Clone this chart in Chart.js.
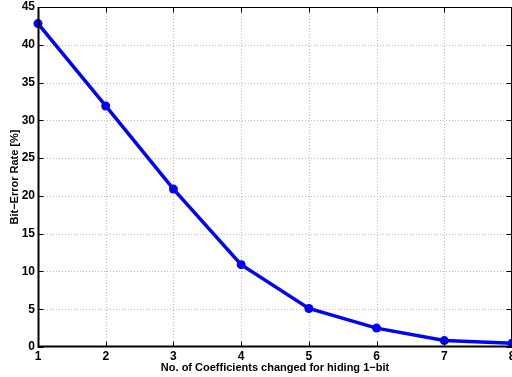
<!DOCTYPE html>
<html><head><meta charset="utf-8">
<script src="https://cdn.jsdelivr.net/npm/chart.js@4/dist/chart.umd.min.js"></script>
<style>html,body{margin:0;padding:0;background:#fff}#wrap{width:512px;height:377px}</style>
</head><body><div id="wrap"><canvas id="c" width="512" height="377"></canvas></div>
<script>
const coefficients = [1, 2, 3, 4, 5, 6, 7, 8];
const bitErrorRate = [42.8, 31.9, 20.9, 10.9, 5.1, 2.5, 0.85, 0.5];
const xTicks = [1, 2, 3, 4, 5, 6, 7, 8];
const yTicks = [0, 5, 10, 15, 20, 25, 30, 35, 40, 45];

const FONT = 'Liberation Sans, Arial, Helvetica, sans-serif';

const framePlugin = {
  id: 'frame',
  beforeDatasetsDraw(chart) {
    const {ctx, chartArea: a, scales: {x, y}} = chart;
    ctx.save();
    ctx.strokeStyle = '#bdbdbd';
    ctx.lineWidth = 1;
    ctx.setLineDash([1, 2]);
    xTicks.forEach(v => {
      const px = Math.round(x.getPixelForValue(v)) + 0.5;
      if (px <= a.left + 1 || px >= a.right - 1) return;
      ctx.beginPath(); ctx.moveTo(px, a.top); ctx.lineTo(px, a.bottom); ctx.stroke();
    });
    yTicks.forEach(v => {
      const py = Math.round(y.getPixelForValue(v)) + 0.5;
      if (py <= a.top + 1 || py >= a.bottom - 1) return;
      ctx.beginPath(); ctx.moveTo(a.left, py); ctx.lineTo(a.right, py); ctx.stroke();
    });
    ctx.restore();
  },
  afterDatasetsDraw(chart) {
    const {ctx, chartArea: a, scales: {x, y}} = chart;
    ctx.save();
    ctx.strokeStyle = '#000';
    ctx.lineWidth = 1;
    ctx.setLineDash([]);
    const L = a.left + 0.5, R = a.right - 0.5, T = a.top + 0.5, B = a.bottom - 0.5;
    ctx.beginPath(); ctx.moveTo(R, T); ctx.lineTo(L, T); ctx.stroke();
    ctx.beginPath(); ctx.moveTo(R, T); ctx.lineTo(R, B); ctx.stroke();
    const tl = 5;
    xTicks.forEach(v => {
      const px = Math.round(x.getPixelForValue(v)) + 0.5;
      ctx.beginPath(); ctx.moveTo(px, B); ctx.lineTo(px, B - tl); ctx.stroke();
      ctx.beginPath(); ctx.moveTo(px, T); ctx.lineTo(px, T + tl); ctx.stroke();
    });
    yTicks.forEach(v => {
      const py = Math.round(y.getPixelForValue(v)) + 0.5;
      ctx.beginPath(); ctx.moveTo(L, py); ctx.lineTo(L + tl, py); ctx.stroke();
      ctx.beginPath(); ctx.moveTo(R, py); ctx.lineTo(R - tl, py); ctx.stroke();
    });
    ctx.lineWidth = 2;
    ctx.beginPath(); ctx.moveTo(a.left + 0.5, a.top); ctx.lineTo(a.left + 0.5, a.bottom + 1); ctx.stroke();
    ctx.beginPath(); ctx.moveTo(a.left, a.bottom - 0.5); ctx.lineTo(a.right, a.bottom - 0.5); ctx.stroke();
    ctx.restore();
  }
};

const noPad = () => ({left: 0, top: 0, right: 0, bottom: 0});

new Chart(document.getElementById('c'), {
  type: 'line',
  data: {
    labels: coefficients,
    datasets: [{
      data: coefficients.map((c, i) => ({x: c, y: bitErrorRate[i]})),
      borderColor: '#0000ff',
      backgroundColor: '#0000ff',
      borderWidth: 3.5,
      pointRadius: 4.5,
      pointBorderWidth: 0,
      pointBackgroundColor: '#0000ff',
      tension: 0,
      clip: false
    }]
  },
  options: {
    responsive: false,
    animation: false,
    devicePixelRatio: 1,
    layout: {autoPadding: false, padding: {top: 7, right: 0, left: 0, bottom: 0}},
    plugins: {legend: {display: false}, tooltip: {enabled: false}},
    scales: {
      x: {
        type: 'linear', min: 1, max: 8,
        afterBuildTicks(s) { s.ticks = xTicks.map(v => ({value: v})); },
        afterFit(s) { s.height = 30; s.paddingLeft = 0; s.paddingRight = 0; s.getPadding = noPad; },
        grid: {display: false, drawTicks: false},
        border: {display: false},
        ticks: {color: '#000', padding: 2, maxRotation: 0, autoSkip: false, font: {family: FONT, size: 12, weight: 'bold'}},
        title: {display: true, text: 'No. of Coefficients changed for hiding 1\u2212bit', color: '#000', padding: {top: 0, bottom: 2.5}, font: {family: FONT, size: 11, weight: 'bold'}}
      },
      y: {
        type: 'linear', min: 0, max: 45,
        afterBuildTicks(s) { s.ticks = yTicks.map(v => ({value: v})); },
        afterFit(s) { s.width = 38; s.paddingTop = 0; s.paddingBottom = 0; s.getPadding = noPad; },
        grid: {display: false, drawTicks: false},
        border: {display: false},
        ticks: {color: '#000', padding: 3, font: {family: FONT, size: 12, weight: 'bold'}},
        title: {display: true, text: 'Bit\u2212Error Rate [%]', color: '#000', padding: {top: 8, bottom: 0}, font: {family: FONT, size: 11, weight: 'bold'}}
      }
    }
  },
  plugins: [framePlugin]
});
</script></body></html>
